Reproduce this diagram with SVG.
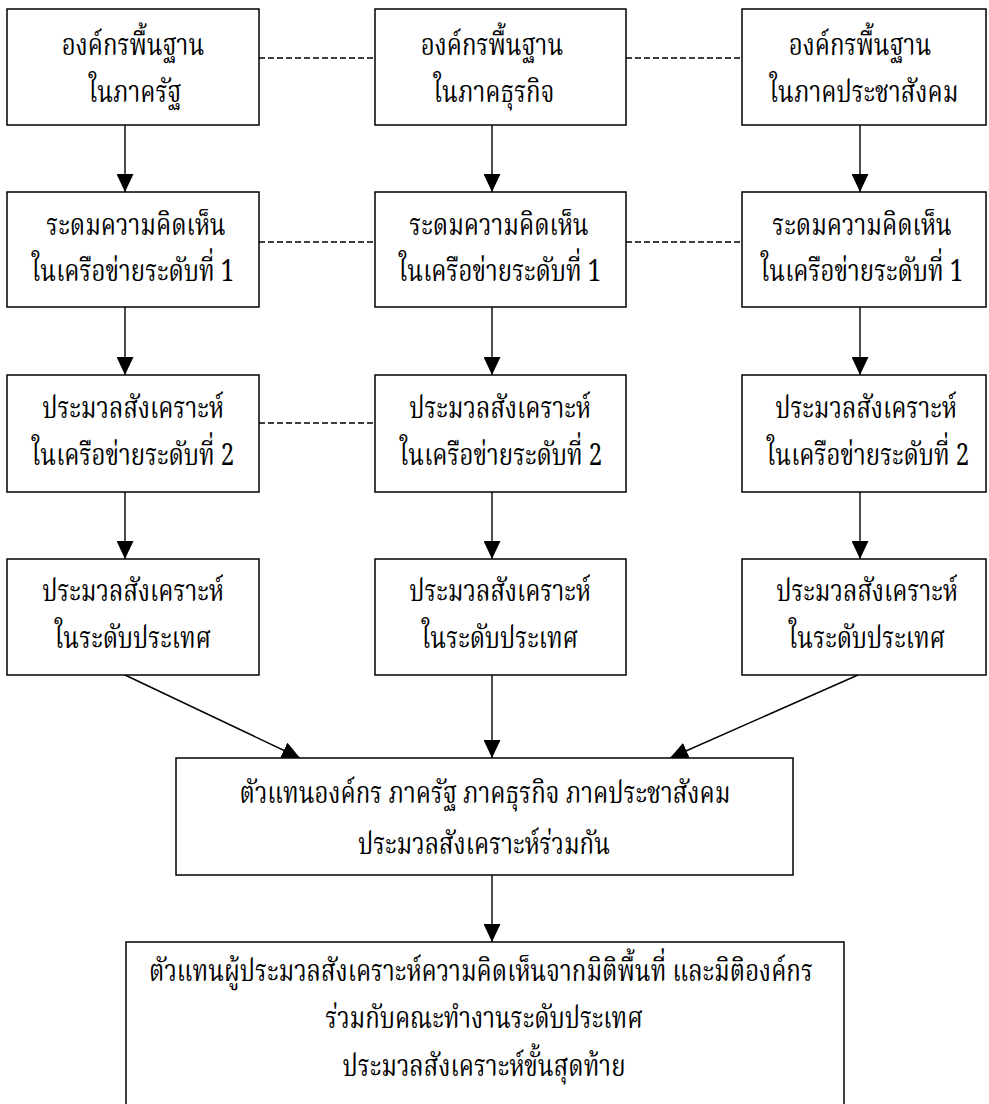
<svg xmlns="http://www.w3.org/2000/svg" width="989" height="1104" viewBox="0 0 989 1104">
<defs>
<style>
.box{fill:#fff;stroke:#000;stroke-width:1.5}
.t{font-family:"Noto Serif Thai","Noto Sans Thai","Loma","Garuda","Norasi","Liberation Serif",serif;font-size:31px;fill:#000;text-anchor:middle}
.c{stroke:#000;stroke-width:1.4;fill:none}
.d{stroke:#000;stroke-width:1.3;stroke-dasharray:6 3;fill:none}
</style>
<marker id="ah" viewBox="0 0 18 18" refX="18" refY="9" markerWidth="18" markerHeight="17" markerUnits="userSpaceOnUse" orient="auto" preserveAspectRatio="none">
<path d="M0,0 L18,9 L0,18 z" fill="#000"/>
</marker>
</defs>
<rect width="989" height="1104" fill="#fff"/>
<g id="connectors">
<line class="d" x1="259" y1="58" x2="375" y2="58"/>
<line class="d" x1="626" y1="58" x2="742" y2="58"/>
<line class="d" x1="259" y1="242" x2="375" y2="242"/>
<line class="d" x1="626" y1="242" x2="742" y2="242"/>
<line class="d" x1="259" y1="423" x2="375" y2="423"/>
<line class="c" x1="125" y1="125" x2="125" y2="192" marker-end="url(#ah)"/>
<line class="c" x1="492" y1="125" x2="492" y2="192" marker-end="url(#ah)"/>
<line class="c" x1="860" y1="125" x2="860" y2="192" marker-end="url(#ah)"/>
<line class="c" x1="125" y1="307" x2="125" y2="375" marker-end="url(#ah)"/>
<line class="c" x1="492" y1="307" x2="492" y2="375" marker-end="url(#ah)"/>
<line class="c" x1="860" y1="307" x2="860" y2="375" marker-end="url(#ah)"/>
<line class="c" x1="125" y1="492" x2="125" y2="559" marker-end="url(#ah)"/>
<line class="c" x1="492" y1="492" x2="492" y2="559" marker-end="url(#ah)"/>
<line class="c" x1="860" y1="492" x2="860" y2="559" marker-end="url(#ah)"/>
<line class="c" x1="125" y1="675" x2="300" y2="758" marker-end="url(#ah)"/>
<line class="c" x1="492" y1="675" x2="492" y2="758" marker-end="url(#ah)"/>
<line class="c" x1="858" y1="675" x2="670" y2="758" marker-end="url(#ah)"/>
<line class="c" x1="492" y1="875" x2="492" y2="942" marker-end="url(#ah)"/>
</g>
<g id="n1"><rect class="box" x="7" y="9" width="252" height="116"/>
<text class="t" transform="translate(133 55) scale(0.775 1)">องค์กรพื้นฐาน</text><text class="t" transform="translate(135 102) scale(0.775 1)">ในภาครัฐ</text></g>
<g id="n2"><rect class="box" x="375" y="9" width="251" height="116"/>
<text class="t" transform="translate(492 55) scale(0.775 1)">องค์กรพื้นฐาน</text><text class="t" transform="translate(494 102) scale(0.775 1)">ในภาคธุรกิจ</text></g>
<g id="n3"><rect class="box" x="742" y="9" width="244" height="116"/>
<text class="t" transform="translate(860 55) scale(0.775 1)">องค์กรพื้นฐาน</text><text class="t" transform="translate(864 102) scale(0.775 1)">ในภาคประชาสังคม</text></g>
<g id="n4"><rect class="box" x="7" y="192" width="252" height="115"/>
<text class="t" transform="translate(136 235) scale(0.775 1)">ระดมความคิดเห็น</text><text class="t" transform="translate(133 281) scale(0.775 1)">ในเครือข่ายระดับที่ 1</text></g>
<g id="n5"><rect class="box" x="375" y="192" width="251" height="115"/>
<text class="t" transform="translate(499 235) scale(0.775 1)">ระดมความคิดเห็น</text><text class="t" transform="translate(500 281) scale(0.775 1)">ในเครือข่ายระดับที่ 1</text></g>
<g id="n6"><rect class="box" x="742" y="192" width="244" height="115"/>
<text class="t" transform="translate(862 235) scale(0.775 1)">ระดมความคิดเห็น</text><text class="t" transform="translate(862 281) scale(0.775 1)">ในเครือข่ายระดับที่ 1</text></g>
<g id="n7"><rect class="box" x="7" y="375" width="252" height="117"/>
<text class="t" transform="translate(133 418) scale(0.775 1)">ประมวลสังเคราะห์</text><text class="t" transform="translate(133 465) scale(0.775 1)">ในเครือข่ายระดับที่ 2</text></g>
<g id="n8"><rect class="box" x="375" y="375" width="251" height="117"/>
<text class="t" transform="translate(500 418) scale(0.775 1)">ประมวลสังเคราะห์</text><text class="t" transform="translate(501 465) scale(0.775 1)">ในเครือข่ายระดับที่ 2</text></g>
<g id="n9"><rect class="box" x="742" y="375" width="244" height="117"/>
<text class="t" transform="translate(866 418) scale(0.775 1)">ประมวลสังเคราะห์</text><text class="t" transform="translate(868 465) scale(0.775 1)">ในเครือข่ายระดับที่ 2</text></g>
<g id="n10"><rect class="box" x="7" y="559" width="252" height="116"/>
<text class="t" transform="translate(133 601) scale(0.775 1)">ประมวลสังเคราะห์</text><text class="t" transform="translate(133 648) scale(0.775 1)">ในระดับประเทศ</text></g>
<g id="n11"><rect class="box" x="375" y="559" width="251" height="116"/>
<text class="t" transform="translate(500 601) scale(0.775 1)">ประมวลสังเคราะห์</text><text class="t" transform="translate(500 648) scale(0.775 1)">ในระดับประเทศ</text></g>
<g id="n12"><rect class="box" x="742" y="559" width="244" height="116"/>
<text class="t" transform="translate(867 601) scale(0.775 1)">ประมวลสังเคราะห์</text><text class="t" transform="translate(867 648) scale(0.775 1)">ในระดับประเทศ</text></g>
<g id="n13"><rect class="box" x="176" y="758" width="617" height="117"/>
<text class="t" transform="translate(485 803) scale(0.775 1)">ตัวแทนองค์กร ภาครัฐ ภาคธุรกิจ ภาคประชาสังคม</text><text class="t" transform="translate(484 854) scale(0.775 1)">ประมวลสังเคราะห์ร่วมกัน</text></g>
<g id="n14"><rect class="box" x="126" y="942" width="718" height="170"/>
<text class="t" transform="translate(481 981) scale(0.775 1)">ตัวแทนผู้ประมวลสังเคราะห์ความคิดเห็นจากมิติพื้นที่ และมิติองค์กร</text><text class="t" transform="translate(484 1028) scale(0.775 1)">ร่วมกับคณะทำงานระดับประเทศ</text><text class="t" transform="translate(484 1076) scale(0.775 1)">ประมวลสังเคราะห์ขั้นสุดท้าย</text></g>
</svg>
